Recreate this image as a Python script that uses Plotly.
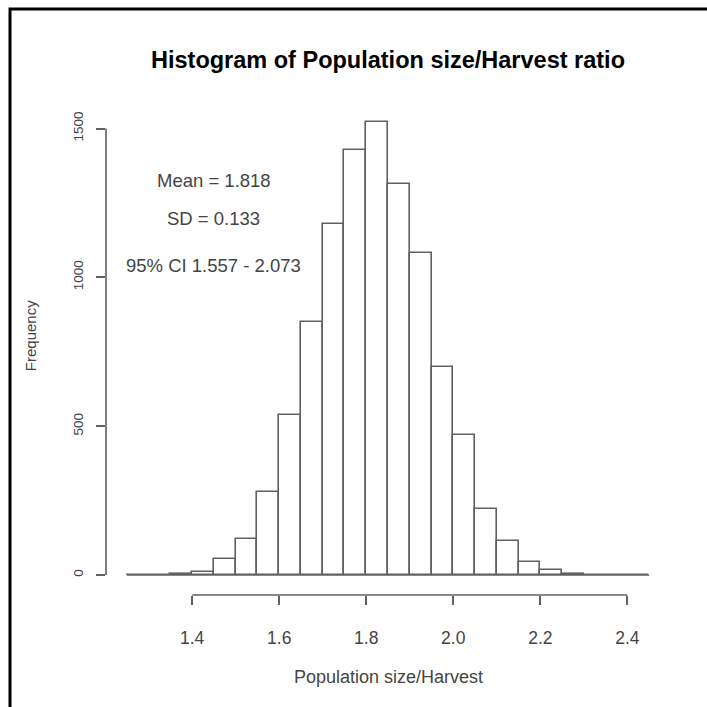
import plotly.graph_objects as go

# ---- data ----
bin_left = [1.25, 1.30, 1.35, 1.40, 1.45, 1.50, 1.55, 1.60, 1.65, 1.70, 1.75, 1.80,
            1.85, 1.90, 1.95, 2.00, 2.05, 2.10, 2.15, 2.20, 2.25, 2.30, 2.35, 2.40]
bin_width = 0.05
counts = [0, 0, 3, 10, 54, 121, 279, 537, 850, 1180, 1427, 1522,
          1314, 1082, 699, 472, 221, 114, 44, 17, 3, 0, 0, 0]
x_ticks = [1.4, 1.6, 1.8, 2.0, 2.2, 2.4]
x_tick_labels = ["1.4", "1.6", "1.8", "2.0", "2.2", "2.4"]
y_ticks = [0, 500, 1000, 1500]
y_tick_labels = ["0", "500", "1000", "1500"]
stats_text = ["Mean = 1.818", "SD = 0.133", "95% CI 1.557 - 2.073"]
title_text = "Histogram of Population size/Harvest ratio"
x_title = "Population size/Harvest"
y_title = "Frequency"

FONT = "Liberation Sans, Arial, Helvetica, sans-serif"
LINE = "#606060"
TXT = "#444444"

fig = go.Figure()
fig.add_trace(go.Bar(
    x=[l + bin_width / 2 for l in bin_left], y=counts, width=bin_width,
    marker=dict(color="white", line=dict(color=LINE, width=1.6)),
    hoverinfo="skip"))
fig.add_trace(go.Scatter(
    x=[bin_left[0], bin_left[-1] + bin_width], y=[0, 0], mode="lines",
    line=dict(color=LINE, width=1.6), hoverinfo="skip"))

# R-style axis lines spanning only first..last tick
fig.add_shape(type="line", xref="x", yref="paper", x0=x_ticks[0], x1=x_ticks[-1],
              y0=0, y1=0, line=dict(color=LINE, width=1.6))
fig.add_shape(type="line", xref="paper", yref="y", x0=0, x1=0,
              y0=y_ticks[0], y1=y_ticks[-1], line=dict(color=LINE, width=1.6))
# outer frame
fig.add_shape(type="rect", xref="paper", yref="paper", x0=-0.1702, x1=1.1,
              y0=-0.3, y1=1.1886, line=dict(color="black", width=3), layer="above")

# stats annotations
for txt, yy in zip(stats_text, [1325, 1198, 1040]):
    fig.add_annotation(x=1.45, y=yy, xref="x", yref="y", text=txt, showarrow=False,
                       xanchor="center", yanchor="middle",
                       font=dict(family=FONT, size=18.5, color=TXT))

fig.add_annotation(x=0.5, y=1.085, xref="paper", yref="paper", text="<b>" + title_text + "</b>",
                   xanchor="center", yanchor="middle",
                   showarrow=False, font=dict(family=FONT, size=23.5, color="black"))
fig.add_annotation(x=0.5, y=-0.166, xref="paper", yref="paper", text=x_title,
                   xanchor="center", yanchor="middle",
                   showarrow=False, font=dict(family=FONT, size=18, color=TXT))
fig.add_annotation(x=-0.1348, y=0.527, xref="paper", yref="paper", text=y_title,
                   xanchor="center", yanchor="middle",
                   textangle=-90, showarrow=False, font=dict(family=FONT, size=15, color=TXT))

fig.update_xaxes(range=[1.202, 2.498], tickvals=x_ticks, ticktext=x_tick_labels,
                 ticks="outside", ticklen=9, tickwidth=1.6, tickcolor=LINE,
                 showline=False, showgrid=False, zeroline=False,
                 ticklabelstandoff=18,
                 tickfont=dict(family=FONT, size=17.5, color=TXT))
fig.update_yaxes(range=[-67, 1589], tickvals=y_ticks, ticktext=y_tick_labels,
                 ticks="outside", ticklen=9, tickwidth=1.6, tickcolor=LINE,
                 tickangle=-90, showline=False, showgrid=False, zeroline=False,
                 ticklabelstandoff=8,
                 tickfont=dict(family=FONT, size=13.5, color=TXT))
fig.update_layout(width=707, height=707, margin=dict(l=106, r=37, t=102, b=112),
                  plot_bgcolor="white", paper_bgcolor="white", showlegend=False,
                  bargap=0)
fig.write_html("out.html")
